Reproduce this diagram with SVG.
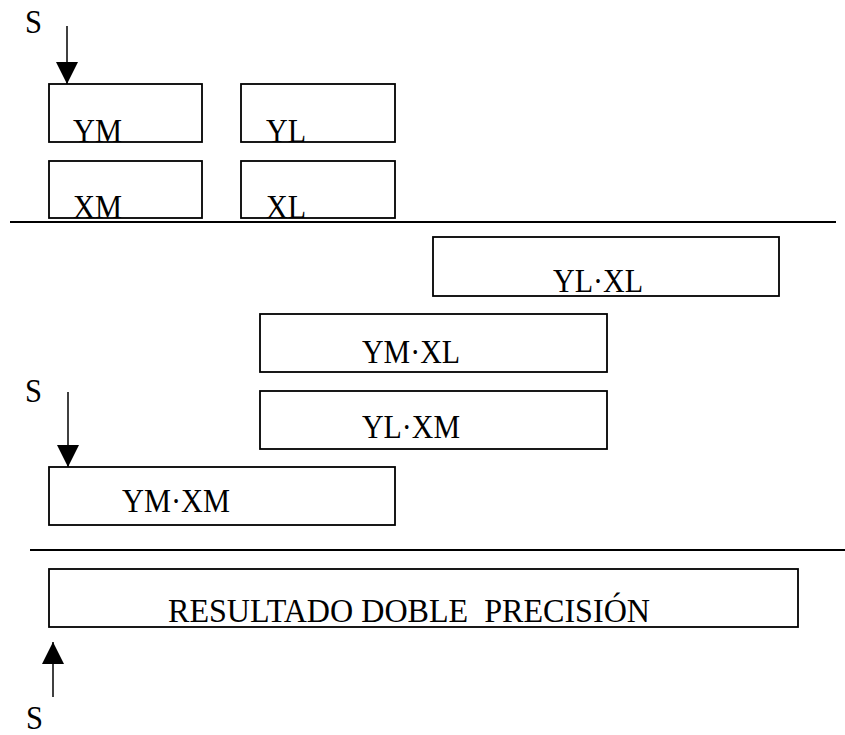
<svg xmlns="http://www.w3.org/2000/svg" width="845" height="735" viewBox="0 0 845 735">
<style>
.box{fill:#fff;stroke:#000;stroke-width:1.8}
.t{font-family:"Liberation Serif","Times New Roman",serif;font-size:33px;fill:#000}
.sep{stroke:#000;stroke-width:1.8}
.arr{stroke:#000;stroke-width:1.5;fill:none;marker-end:url(#ah)}
</style>
<defs>
<marker id="ah" markerUnits="userSpaceOnUse" markerWidth="22" markerHeight="22" viewBox="0 0 20 20" refX="20" refY="10" orient="auto">
<path d="M0,0 L20,10 L0,20 Z" fill="#000"/>
</marker>
</defs>
<rect width="845" height="735" fill="#fff"/>
<g id="separators">
<line class="sep" x1="10" y1="222" x2="836" y2="222"/>
<line class="sep" x1="30" y1="550" x2="845" y2="550"/>
</g>
<g id="label-s-top"><text class="t" x="25" y="33" textLength="17" lengthAdjust="spacingAndGlyphs">S</text></g>
<g id="label-s-mid"><text class="t" x="25" y="402" textLength="17" lengthAdjust="spacingAndGlyphs">S</text></g>
<g id="label-s-bottom"><text class="t" x="26" y="729" textLength="17" lengthAdjust="spacingAndGlyphs">S</text></g>
<g id="node-ym"><rect class="box" x="49" y="84" width="153" height="58"/><text class="t" x="73" y="142" textLength="49" lengthAdjust="spacingAndGlyphs">YM</text></g>
<g id="node-yl"><rect class="box" x="241" y="84" width="154" height="58"/><text class="t" x="266" y="142" textLength="40" lengthAdjust="spacingAndGlyphs">YL</text></g>
<g id="node-xm"><rect class="box" x="49" y="161" width="153" height="57"/><text class="t" x="73" y="218" textLength="49" lengthAdjust="spacingAndGlyphs">XM</text></g>
<g id="node-xl"><rect class="box" x="241" y="161" width="154" height="57"/><text class="t" x="266" y="218" textLength="40" lengthAdjust="spacingAndGlyphs">XL</text></g>
<g id="node-ylxl"><rect class="box" x="433" y="237" width="346" height="59"/><text class="t" x="553" y="292" textLength="90" lengthAdjust="spacingAndGlyphs">YL·XL</text></g>
<g id="node-ymxl"><rect class="box" x="260" y="314" width="347" height="58"/><text class="t" x="362" y="363" textLength="98" lengthAdjust="spacingAndGlyphs">YM·XL</text></g>
<g id="node-ylxm"><rect class="box" x="260" y="391" width="347" height="58"/><text class="t" x="362" y="438" textLength="98" lengthAdjust="spacingAndGlyphs">YL·XM</text></g>
<g id="node-ymxm"><rect class="box" x="49" y="467" width="346" height="58"/><text class="t" x="122" y="512" textLength="108" lengthAdjust="spacingAndGlyphs">YM·XM</text></g>
<g id="node-result"><rect class="box" x="49" y="569" width="749" height="58"/><text class="t" x="168" y="622" xml:space="preserve" textLength="482" lengthAdjust="spacingAndGlyphs">RESULTADO DOBLE  PRECISIÓN</text></g>
<g id="connectors">
<line class="arr" x1="67" y1="26" x2="67" y2="84"/>
<line class="arr" x1="68" y1="392" x2="68" y2="467"/>
<line class="arr" x1="53" y1="697" x2="53" y2="642"/>
</g>
</svg>
